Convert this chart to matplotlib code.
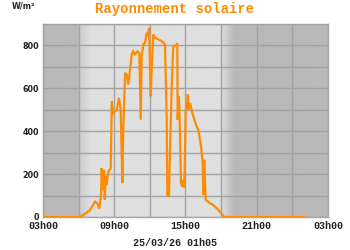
import numpy as np
import matplotlib
matplotlib.use("Agg")
import matplotlib.pyplot as plt

# Solar radiation readings (hour of day, W/m2)
hours = [3.0, 6.12, 6.68, 6.96, 7.38, 7.57, 7.74, 7.88, 7.94, 8.03, 8.14, 8.20,
         8.28, 8.36, 8.50, 8.70, 8.79, 8.92, 9.21, 9.40, 9.54, 9.68, 9.76,
         9.91, 10.05, 10.18, 10.33, 10.47, 10.60, 10.75, 10.94, 11.11, 11.23,
         11.31, 11.45, 11.59, 11.73, 11.82, 11.93, 12.07, 12.15, 12.29, 12.43,
         13.00, 13.27, 13.42, 13.47, 13.61, 13.69, 13.84, 13.97, 14.17, 14.31,
         14.34, 14.45, 14.54, 14.62, 14.73, 14.81, 14.90, 15.02, 15.10, 15.19,
         15.29, 15.38, 15.66, 15.94, 16.08, 16.31, 16.45, 16.50, 16.58, 16.70,
         17.06, 17.34, 17.76, 18.27, 24.98]
radiation = [0, 0, 20, 33, 72, 64, 40, 95, 228, 126, 220, 80,
             189, 150, 212, 228, 539, 485, 500, 555, 500, 158, 407,
             672, 664, 617, 688, 758, 773, 758, 773, 765, 454,
             750, 805, 812, 859, 843, 882, 563, 688, 851, 836,
             820, 805, 454, 103, 95, 299, 609, 797, 800, 809,
             454, 563, 376, 158, 142, 173, 135, 500, 508, 571,
             500, 531, 469, 422, 407, 329, 251, 103, 267, 80,
             64, 56, 33, 0, 0]

tick_hours = [3, 9, 15, 21, 27]
tick_labels = ["03h00", "09h00", "15h00", "21h00", "03h00"]
y_ticks = [0, 200, 400, 600, 800]

TITLE = "Rayonnement solaire"
DATE_TEXT = "25/03/26 01h05"
UNIT = "W/m²"

LINE_COLOR = "#ff8c00"
NIGHT = 0.725
DAY = 0.875

fig = plt.figure(figsize=(3.5, 2.5), dpi=100)
ax = fig.add_axes([0.123, 0.132, 0.814, 0.772])

# day/night background with soft transitions
xs = np.linspace(3, 27, 800)
shade = np.interp(xs, [3, 6, 6.1, 7.0, 18, 18.1, 19.1, 27],
                  [NIGHT, NIGHT, 0.80, DAY, DAY, 0.86, NIGHT, NIGHT])
bg = np.tile(shade, (2, 1))
ax.imshow(bg, cmap="gray", vmin=0, vmax=1, aspect="auto",
          extent=[3, 27, 0, 900], zorder=0, interpolation="bilinear")

ax.plot(hours, radiation, color=LINE_COLOR, lw=1.6, zorder=3, solid_joinstyle="miter")

ax.set_xlim(3, 27)
ax.set_ylim(0, 900)
ax.set_xticks(tick_hours)
ax.set_xticklabels(tick_labels, family="Liberation Mono", fontweight="bold", fontsize=7.2)
ax.set_xticks(np.arange(3, 28, 3), minor=True)
ax.set_yticks(y_ticks)
ax.set_yticklabels([str(v) for v in y_ticks], family="DejaVu Sans", fontweight="bold", fontsize=5.8)
ax.set_yticks(np.arange(0, 901, 100), minor=True)
ax.tick_params(which="both", length=0, pad=3, colors="#222222")
ax.grid(True, which="both", color="#a2a2a2", lw=1.0, zorder=1)
ax.set_axisbelow(False)
for s in ax.spines.values():
    s.set_color("#a8a8a8")
    s.set_linewidth(1.0)

fig.text(0.5, 0.962, TITLE, ha="center", va="center", color=LINE_COLOR,
         family="Liberation Mono", fontweight="bold", fontsize=10)
fig.text(0.068, 0.975, UNIT, ha="center", va="center", color="#222222",
         family="DejaVu Sans", fontweight="bold", fontsize=5.8)
fig.text(0.5, 0.028, DATE_TEXT, ha="center", va="center", color="#222222",
         family="Liberation Mono", fontweight="bold", fontsize=7.2)

fig.savefig("out.png", dpi=100, facecolor="white")
